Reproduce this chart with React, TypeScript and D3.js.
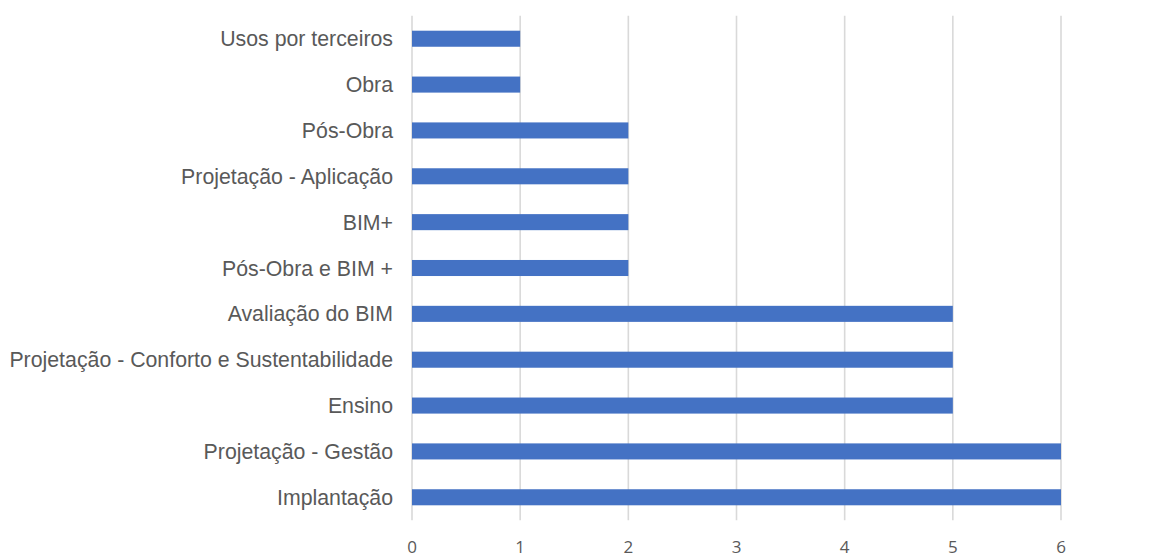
import React from "react";
import * as d3 from "d3";

const categories = [
  "Usos por terceiros",
  "Obra",
  "Pós-Obra",
  "Projetação - Aplicação",
  "BIM+",
  "Pós-Obra e BIM +",
  "Avaliação do BIM",
  "Projetação - Conforto e Sustentabilidade",
  "Ensino",
  "Projetação - Gestão",
  "Implantação",
];
const values = [1, 1, 2, 2, 2, 2, 5, 5, 5, 6, 6];
const xTicks = [0, 1, 2, 3, 4, 5, 6];

export default function App() {
  const W = 1165, H = 557;
  const x = d3.scaleLinear().domain([0, 6]).range([412, 1061]);
  const y = d3.scaleBand<string>().domain(categories).range([15.8, 520.2]).paddingInner(0.65).paddingOuter(0.325);
  return (
    <svg width={W} height={H} style={{ position: "absolute", left: 0, top: 0, background: "#fff" }}>
      {xTicks.map((t) => (
        <line key={"g" + t} x1={x(t)} x2={x(t)} y1={15.8} y2={520.2} stroke="#d9d9d9" strokeWidth={1.6} />
      ))}
      {categories.map((c, i) => (
        <rect key={c} x={x(0)} y={y(c)} width={x(values[i]) - x(0)} height={y.bandwidth()} fill="#4472c4" />
      ))}
      {categories.map((c) => (
        <text key={"l" + c} x={393} y={(y(c) as number) + y.bandwidth() / 2 + 7.5} textAnchor="end"
          fontFamily="'Liberation Sans', Arial, sans-serif" fontSize={21.3} fill="#595959">{c}</text>
      ))}
      {xTicks.map((t) => (
        <text key={"t" + t} x={x(t)} y={553} textAnchor="middle"
          fontFamily="'Open Sans', sans-serif" fontSize={17} fill="#595959">{t}</text>
      ))}
    </svg>
  );
}
